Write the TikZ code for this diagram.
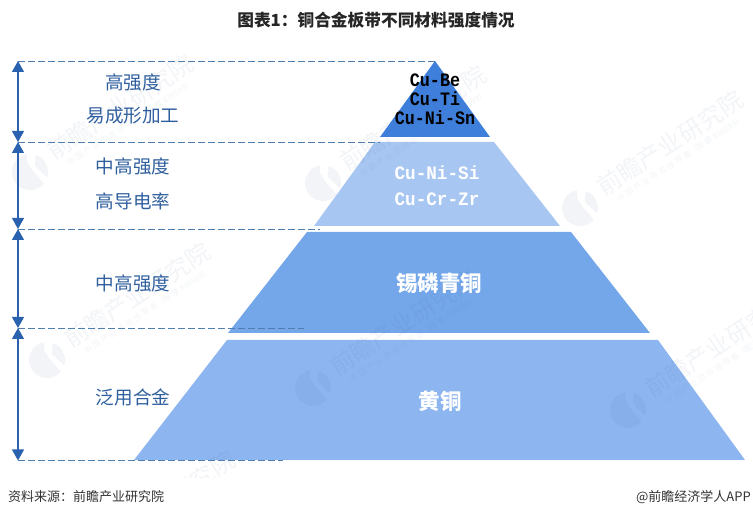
\documentclass[tikz,border=0pt]{standalone}
\usepackage{fontspec}
\setmainfont{Noto Sans CJK SC}
\newfontfamily\monofam{Liberation Mono}
\usetikzlibrary{positioning, arrows.meta}
\definecolor{levelone}{HTML}{3F7FDC}
\definecolor{leveltwo}{HTML}{A7C6F1}
\definecolor{levelthree}{HTML}{74A6EA}
\definecolor{levelfour}{HTML}{8DB6F0}
\definecolor{labelblue}{HTML}{2F5F9E}
\definecolor{arrowblue}{HTML}{2A62B0}
\definecolor{dashblue}{HTML}{4F7FAE}
\definecolor{markblue}{HTML}{40608F}
\tikzset{
    sidelabel/.style={text=labelblue,font=\fontsize{18.6}{18.6}\selectfont,inner sep=0pt},
    alloylabel/.style={font=\monofam\bfseries\fontsize{19}{19}\selectfont,inner sep=0pt,xscale=0.88},
    lightalloy/.style={text=white,font=\monofam\bfseries\fontsize{19}{19}\selectfont,inner sep=0pt,xscale=0.93},
    levellabel/.style={text=white,font=\bfseries\fontsize{21.5}{21.5}\selectfont,inner sep=0pt},
    notelabel/.style={text=black!80,font=\fontsize{13}{13}\selectfont,inner sep=0pt},
    levelarrow/.style={arrowblue,line width=1.2pt,{Triangle[width=12pt,length=11pt]}-{Triangle[width=12pt,length=11pt]}},
    leveldash/.style={dashblue,line width=0.8pt,dash pattern=on 7pt off 3pt},
    watermark/.style={markblue,opacity=0.07,rotate=33,font=\fontsize{24}{24}\selectfont,inner sep=0pt},
    submark/.style={markblue,opacity=0.07,rotate=33,font=\fontsize{8}{8}\selectfont,inner sep=0pt}
}
\begin{document}
\begin{tikzpicture}[x=1pt,y=-1pt]
    \useasboundingbox (0,0) rectangle (753,518);
    % pyramid
    \fill[levelone] (435,61)--(490,137)--(380,137)--cycle;
    \fill[leveltwo] (375,142)--(494,142)--(560,226)--(314,226)--cycle;
    \fill[levelthree] (307,232)--(571,232)--(650,333)--(228,333)--cycle;
    \fill[levelfour] (227,340)--(658,340)--(745,460)--(134,460)--cycle;
    % watermarks
    \begin{scope}
        \clip (0,40) rectangle (753,478);
        \foreach \wx/\wy/\wn in {30/172/a,323/183/b,580/208/c,47/360/d,313/388/e,628/410/f,72/568/g}{
            \begin{scope}[shift={(\wx,\wy)}]
                \fill[markblue,opacity=0.07] (-100:18) arc (-100:-320:18) -- (2,-2) -- (-3,-10) -- cycle;
                \fill[markblue,opacity=0.07] (-72:18) arc (-72:18:18) -- (5,-6) -- cycle;
                \node[watermark] (mark\wn) at (90,-65) {前瞻产业研究院};
                \node[submark] (sub\wn) at (100,-49) {中 国 产 业 咨 询 领 导 者（股 票 839599）};
            \end{scope}
        }
    \end{scope}
    % level marks
    \coordinate (topend) at (435,61);
    \coordinate (twoend) at (380,142);
    \coordinate (threeend) at (320,229);
    \coordinate (fourend) at (304,328);
    \coordinate (baseend) at (283,460.5);
    \coordinate (topmark) at (18,61);
    \coordinate (twomark) at (18,142);
    \coordinate (threemark) at (18,229);
    \coordinate (fourmark) at (18,328);
    \coordinate (basemark) at (18,460.5);
    \draw[leveldash] (topmark)--(topend);
    \draw[leveldash] (twomark)--(twoend);
    \draw[leveldash] (threemark)--(threeend);
    \draw[leveldash] (fourmark)--(fourend);
    \draw[leveldash] (basemark)--(baseend);
    \draw[levelarrow] (topmark)--(twomark);
    \draw[levelarrow] (twomark)--(threemark);
    \draw[levelarrow] (threemark)--(fourmark);
    \draw[levelarrow] (fourmark)--(basemark);
    % side labels
    \node[sidelabel] (highone) at (133,82) {高强度};
    \node[sidelabel] (formone) at (133,116) {易成形加工};
    \node[sidelabel] (hightwo) at (133,166) {中高强度};
    \node[sidelabel] (condtwo) at (133,201) {高导电率};
    \node[sidelabel] (highthree) at (133,283) {中高强度};
    \node[sidelabel] (usefour) at (133,397) {泛用合金};
    % alloys
    \node[alloylabel] (cube) at (435,80) {Cu-Be};
    \node[alloylabel] (cuti) at (435,99) {Cu-Ti};
    \node[alloylabel] (cunisn) at (435,118) {Cu-Ni-Sn};
    \node[lightalloy] (cunisi) at (437,173) {Cu-Ni-Si};
    \node[lightalloy] (cucrzr) at (437,199) {Cu-Cr-Zr};
    \node[levellabel] (tinbronze) at (439,283) {锡磷青铜};
    \node[levellabel] (brass) at (440,401) {黄铜};
    % title and notes
    \node[inner sep=0pt,font=\bfseries\fontsize{16.7}{16.7}\selectfont,text=black!85] (title) at (376,20) {图表1：铜合金板带不同材料强度情况};
    \node[notelabel,anchor=west] (source) at (8,497) {资料来源：前瞻产业研究院};
    \node[notelabel,anchor=east] (brand) at (751,497) {@前瞻经济学人APP};
\end{tikzpicture}
\end{document}
